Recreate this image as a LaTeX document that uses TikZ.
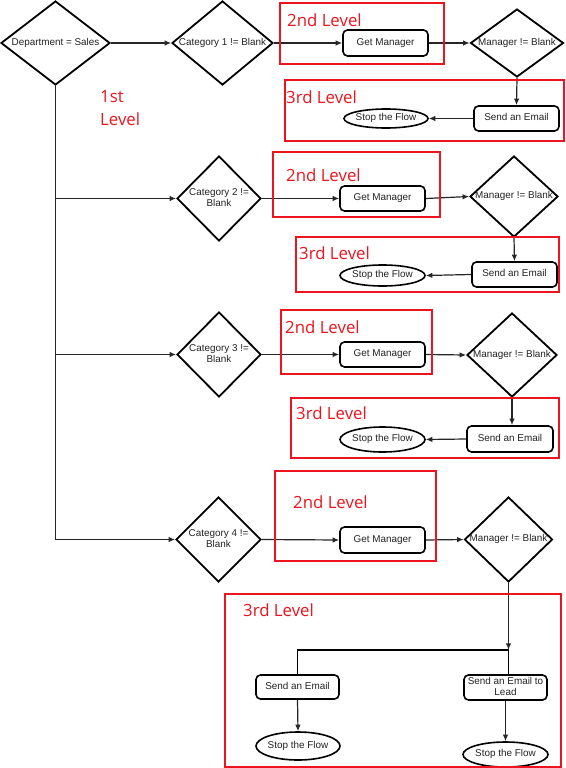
\documentclass[tikz,border=0pt]{standalone}
\usepackage{fontspec}
\setmainfont{Liberation Sans}
\newfontfamily\lvlfont{Open Sans}
\usetikzlibrary{shapes.geometric,arrows.meta}
\definecolor{lvlred}{RGB}{236,20,30}
\definecolor{txtgray}{RGB}{35,35,35}
\newcommand\ctext[1]{\makebox[0pt]{\begin{tabular}{@{}c@{}}#1\end{tabular}}}
\tikzset{
  nodefont/.style={text=txtgray, font=\fontsize{9.9}{11.5}\selectfont},
  dia/.style={diamond, draw=black, line width=1.8pt, inner sep=0pt, nodefont},
  proc/.style={rectangle, rounded corners=4.5pt, draw=black, line width=1.6pt, inner sep=0pt,
               minimum width=85pt, minimum height=25pt, nodefont},
  term/.style={ellipse, draw=black, line width=1.6pt, inner sep=0pt,
               minimum width=85pt, minimum height=21pt, nodefont},
  lvlbox/.style={draw=lvlred, line width=2.2pt},
  lvl/.style={text=lvlred, font=\lvlfont\fontsize{16.8}{23}\selectfont, inner sep=0pt, anchor=west, align=left},
  arr/.style={-{Latex[length=6.5pt,width=5.5pt]}, line width=1.2pt, draw=black!85},
  ln/.style={line width=1.8pt, draw=black}
}
\begin{document}
\begin{tikzpicture}[x=1pt,y=-1pt]
\useasboundingbox (0,0) rectangle (565,768);
\fill[white] (0,0) rectangle (565,768);

% ---- row 1
\node[dia, minimum width=109pt, minimum height=84pt] (dept) at (55.5,43) {\ctext{Department = Sales}};
\node[dia, minimum width=101pt, minimum height=84pt] (cat1) at (222.5,43) {\ctext{Category 1 != Blank}};
\node[proc, minimum height=26pt] (gm1) at (385.5,43) {\ctext{Get Manager}};
\node[dia, minimum width=93pt, minimum height=68pt] (mgr1) at (517,43) {\ctext{Manager != Blank}};
\node[proc] (send1) at (516.5,118.5) {\ctext{Send an Email}};
\node[term, minimum width=84pt, minimum height=19pt] (stop1) at (386,118.5) {\ctext{Stop the Flow}};

% ---- row 2
\node[dia, minimum width=84pt, minimum height=85pt] (cat2) at (219,198.5) {\ctext{Category 2 !=\\Blank}};
\node[proc] (gm2) at (382.5,198.5) {\ctext{Get Manager}};
\node[dia, minimum width=88pt, minimum height=81pt] (mgr2) at (514,196.5) {\ctext{Manager != Blank}};
\node[proc] (send2) at (514.5,274.5) {\ctext{Send an Email}};
\node[term] (stop2) at (382.5,275.5) {\ctext{Stop the Flow}};

% ---- row 3
\node[dia, minimum width=84pt, minimum height=85pt] (cat3) at (219,354.5) {\ctext{Category 3 !=\\Blank}};
\node[proc] (gm3) at (382.5,354.5) {\ctext{Get Manager}};
\node[dia, minimum width=90pt, minimum height=84pt] (mgr3) at (512,355) {\ctext{Manager != Blank}};
\node[proc, minimum width=86pt, minimum height=26pt] (send3) at (510,439) {\ctext{Send an Email}};
\node[term, minimum height=25pt] (stop3) at (382.5,439.5) {\ctext{Stop the Flow}};

% ---- row 4
\node[dia, minimum width=85pt, minimum height=85pt] (cat4) at (218.5,539.5) {\ctext{Category 4 !=\\Blank}};
\node[proc, minimum height=26pt] (gm4) at (382.5,540) {\ctext{Get Manager}};
\node[dia, minimum width=88pt, minimum height=85pt] (mgr4) at (508.5,539.5) {\ctext{Manager != Blank}};
\node[proc, minimum width=83pt, minimum height=24pt] (sendL) at (297.5,687) {\ctext{Send an Email}};
\node[term, minimum width=84pt, minimum height=28pt] (stopL) at (298,746) {\ctext{Stop the Flow}};
\node[proc, minimum width=83pt, minimum height=25pt] (sendLead) at (505.5,687.5) {\ctext{Send an Email to\\Lead}};
\node[term, minimum width=85pt, minimum height=25pt] (stopR) at (505.5,754.5) {\ctext{Stop the Flow}};

% ---- connectors
\draw[arr] (dept.east) -- (cat1.west);
\draw[line width=1.4pt, draw=black!85] (dept.south) -- (dept.south |- cat4.west);
\draw[arr] (dept.south |- cat2.west) -- (cat2.west);
\draw[arr] (dept.south |- cat3.west) -- (cat3.west);
\draw[arr] (dept.south |- cat4.west) -- (cat4.west);

\draw[arr] (cat1.east) -- (gm1.west);
\draw[arr] (gm1.east) -- (mgr1.west);
\draw[arr] (mgr1.south) -- (send1.north);
\draw[arr] (send1.west) -- (stop1.east);

\draw[arr] (cat2.east) -- (gm2.west);
\draw[arr] (gm2.east) -- (mgr2.west);
\draw[arr] (mgr2.south) -- (send2.north);
\draw[arr] (send2.west) -- (stop2.east);

\draw[arr] (cat3.east) -- (gm3.west);
\draw[arr] (gm3.east) -- (mgr3.west);
\draw[arr] (mgr3.south) -- (mgr3.south |- send3.north);
\draw[arr] (send3.west) -- (stop3.east);

\draw[arr] (cat4.east) -- (gm4.west);
\draw[arr] (gm4.east) -- (mgr4.west);
\path (mgr4.south) ++(0,67) coordinate (J);
\draw[arr] (mgr4.south) -- (J);
\draw[ln] (sendL.north) |- (J) -- (J |- sendLead.north);
\draw[arr] (sendL.south) -- (stopL.north);
\draw[arr] (sendLead.south) -- (stopR.north);

% ---- level boxes and labels
\node[lvl] (l1) at (100,108.5) {1st\\Level};

\draw[lvlbox] (280,3) rectangle (444,64);
\node[lvl] (l2a) at (287,20) {2nd Level};
\draw[lvlbox] (285,80) rectangle (564,141);
\node[lvl] (l3a) at (286,97) {3rd Level};

\draw[lvlbox] (273,152) rectangle (440,217);
\node[lvl] (l2b) at (286,175) {2nd Level};
\draw[lvlbox] (296,237) rectangle (559,292);
\node[lvl] (l3b) at (299,253) {3rd Level};

\draw[lvlbox] (281,310) rectangle (432,374);
\node[lvl] (l2c) at (285,327) {2nd Level};
\draw[lvlbox] (291,398) rectangle (559,458);
\node[lvl] (l3c) at (296,413) {3rd Level};

\draw[lvlbox] (275,471) rectangle (436,561);
\node[lvl] (l2d) at (293,502) {2nd Level};
\draw[lvlbox] (225,594) rectangle (561,767);
\node[lvl] (l3d) at (243,610) {3rd Level};
\end{tikzpicture}
\end{document}
